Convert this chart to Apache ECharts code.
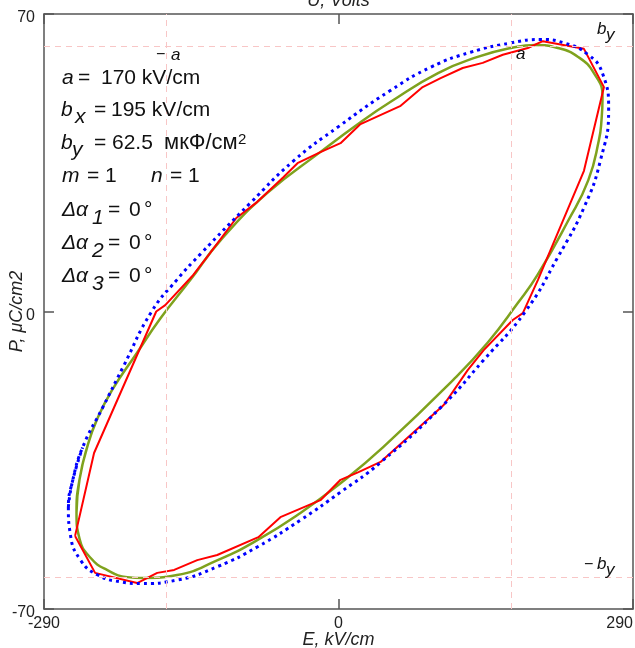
<!DOCTYPE html>
<html><head><meta charset="utf-8">
<script src="https://cdn.jsdelivr.net/npm/echarts@6/dist/echarts.min.js"></script>
<style>html,body{margin:0;padding:0;background:#fff}#c{width:635px;height:648px}</style>
</head><body><div id="c"></div>
<script>
// ---- axis ranges / ticks ----
const E_MIN = -290, E_MAX = 290;
const P_MIN = -70, P_MAX = 70;
const eTicks = [-290, 0, 290];
const pTicks = [-70, 0, 70];
// reference lines: ±a (kV/cm), ±b_y
const aLine = 170;
const byLine = 62.5;

// ---- experimental loop (red polyline) ----
const redE = [-259.4,-240.7,-179.5,-170.6,-143.0,-126.3,-100.6,-79.9,-54.3,-40.4,-17.8,2.0,21.7,61.2,82.9,100.6,122.3,142.0,161.8,186.4,201.2,241.7,261.4,241.7,196.3,181.5,171.6,143.0,127.2,103.6,74.0,41.4,19.7,2.0,-17.8,-57.2,-78.9,-119.4,-139.1,-161.8,-178.5,-198.3,-239.7,-259.4];
const redP = [-52.8,-33.3,0.0,1.5,8.6,13.8,22.0,25.8,31.6,34.9,37.5,39.6,44.1,48.4,52.8,54.9,57.3,58.5,60.4,62.0,63.6,61.8,52.8,33.1,7.4,-0.4,-2.0,-9.1,-13.8,-22.0,-28.4,-35.4,-37.8,-39.6,-44.4,-48.4,-53.1,-57.3,-58.5,-60.8,-61.5,-63.9,-61.5,-52.8];

// ---- model loop (olive solid) ----
const greenE = [-258,-255,-247,-238,-223,-198,-176,-146,-116,-70,-18,22,51,98,137,170,194,216,236,251.5,260,259,256.5,246,226,196,176,147,113,44,2,-37.5,-80,-119,-159,-192,-208,-228,-244,-255];
const greenP = [-47.3,-39.5,-31.5,-25.5,-18.5,-9.6,-1.8,7.4,16.8,27.9,37.5,44.6,49.3,56.1,59.9,62,62.7,62,59.9,56.1,50.5,45.1,40.4,30.9,21.3,8.6,1.8,-7.3,-16.1,-31.9,-40.4,-47.4,-53.8,-58.5,-62,-62.7,-62.5,-60.8,-58,-53.5];

// ---- ellipse (blue dotted) ----
const blueE = [-266,-262,-252,-232,-212,-184,-159,-136,-87,-44,0,51,91,130,170,199,222,246,260,266,258,242,216,184,143,101,41,2,-37,-80,-119,-159,-195,-215,-237,-254,-264];
const blueP = [-46,-40,-32,-22.5,-13,0,7.5,13.5,25.5,35.5,43.5,52,57.5,61,63.2,64,63.2,60.4,56,47.4,35.6,24.6,12.8,0,-11.4,-22.5,-35.6,-42.5,-49,-55.4,-60,-63.2,-64,-63.6,-62,-58.5,-52.5];

function zip(xs, ys) { return xs.map((x, i) => [x, ys[i]]); }
function closeLoop(pts, extra) { return pts.concat(pts.slice(0, extra)); }

const FONT = '"Liberation Sans", Arial, Helvetica, sans-serif';
const AX = '#555';

function txt(x, base, s, size, italic) {
  return {
    type: 'text', x: x, y: base - 0.34 * size, silent: true, z: 100,
    style: {
      text: s, fill: '#111',
      font: (italic ? 'italic ' : '') + size + 'px ' + FONT,
      textAlign: 'left', textVerticalAlign: 'middle', verticalAlign: 'middle'
    }
  };
}

const FS = 21;
const graphics = [
  // a = 170 kV/cm
  txt(62, 85, 'a', FS, true), txt(78, 85, '=', FS), txt(101, 85, '170 kV/cm', FS),
  // b_x = 195 kV/cm
  txt(61, 117, 'b', FS, true), txt(75, 124, 'x', FS, true), txt(94, 117, '=', FS), txt(111, 117, '195 kV/cm', FS),
  // b_y = 62.5 мкФ/см2
  txt(61, 150, 'b', FS, true), txt(72, 157, 'y', FS, true), txt(94, 150, '=', FS), txt(112, 150, '62.5', FS),
  txt(164, 150, 'мкФ/см', 22), txt(238, 145, '2', 15),
  // m = 1   n = 1
  txt(62, 183, 'm', FS, true), txt(87, 183, '= 1', FS), txt(151, 183, 'n', FS, true), txt(170, 183, '= 1', FS),
  // Δα_i = 0°
  txt(62, 217, 'Δα', FS, true), txt(92, 225, '1', FS, true), txt(108, 217, '=', FS), txt(129, 217, '0', FS), txt(144, 217, '°', FS),
  txt(62, 250, 'Δα', FS, true), txt(92, 258, '2', FS, true), txt(108, 250, '=', FS), txt(129, 250, '0', FS), txt(144, 250, '°', FS),
  txt(62, 283, 'Δα', FS, true), txt(92, 291, '3', FS, true), txt(108, 283, '=', FS), txt(129, 283, '0', FS), txt(144, 283, '°', FS),
  // plot annotations
  txt(156, 60, '−', 16), txt(171, 61, 'a', 17, true),
  txt(516, 60, 'a', 17, true),
  txt(597, 35, 'b', 17, true), txt(606, 41, 'y', 17, true),
  txt(584, 570, '−', 16), txt(597, 570, 'b', 17, true), txt(606, 576, 'y', 17, true)
];

function xAx(pos, showLabel, name, gap) {
  return {
    type: 'value', position: pos, min: E_MIN, max: E_MAX, interval: eTicks[1] - eTicks[0],
    axisLine: { show: true, onZero: false, lineStyle: { color: AX, width: 1.5 } },
    axisTick: { show: true, inside: true, length: 10, lineStyle: { color: AX, width: 1.5 } },
    axisLabel: { show: showLabel, fontSize: 16, color: '#222', fontFamily: FONT, margin: 7, alignMaxLabel: 'right' },
    splitLine: { show: false },
    name: name, nameLocation: 'middle', nameGap: gap, nameMoveOverlap: false,
    nameTextStyle: { fontStyle: 'italic', fontSize: 18, color: '#222', fontFamily: FONT }
  };
}
function yAx(pos, showLabel, name, gap) {
  return {
    type: 'value', position: pos, min: P_MIN, max: P_MAX, interval: pTicks[1] - pTicks[0],
    axisLine: { show: true, onZero: false, lineStyle: { color: AX, width: 1.5 } },
    axisTick: { show: true, inside: true, length: 10, lineStyle: { color: AX, width: 1.5 } },
    axisLabel: { show: showLabel, fontSize: 16, color: '#222', fontFamily: FONT, margin: 9, verticalAlign: 'top', lineHeight: 8 },
    splitLine: { show: false },
    name: name, nameLocation: 'middle', nameGap: gap, nameRotate: 90, nameMoveOverlap: false,
    nameTextStyle: { fontStyle: 'italic', fontSize: 18, color: '#222', fontFamily: FONT }
  };
}

const chart = echarts.init(document.getElementById('c'), null, { renderer: 'canvas' });
chart.setOption({
  animation: false,
  backgroundColor: '#fff',
  grid: { left: 44, right: 2, top: 14, bottom: 39, containLabel: false, outerBoundsMode: 'none' },
  xAxis: [xAx('bottom', true, 'E, kV/cm', 22), xAx('top', false, 'U, Volts', 4)],
  yAxis: [yAx('left', true, 'P, μC/cm2', 18), yAx('right', false, '', 0)],
  series: [
    {
      type: 'line', data: [], silent: true, z: 1,
      markLine: {
        silent: true, symbol: ['none', 'none'], label: { show: false },
        lineStyle: { color: '#f8c6c6', type: [6, 5], width: 1 },
        data: [{ xAxis: -aLine }, { xAxis: aLine }, { yAxis: byLine }, { yAxis: -byLine }]
      }
    },
    {
      type: 'line', data: closeLoop(zip(greenE, greenP), 3), smooth: true, symbol: 'none',
      lineStyle: { color: '#7fa21d', width: 2.5 }, z: 2, silent: true
    },
    {
      type: 'line', data: zip(redE, redP), smooth: false, symbol: 'none',
      lineStyle: { color: '#ff0000', width: 2 }, z: 3, silent: true
    },
    {
      type: 'line', data: closeLoop(zip(blueE, blueP), 3), smooth: true, symbol: 'none',
      lineStyle: { color: '#0000ff', width: 3, type: [3, 4] }, z: 4, silent: true
    }
  ],
  graphic: graphics
});
</script></body></html>
